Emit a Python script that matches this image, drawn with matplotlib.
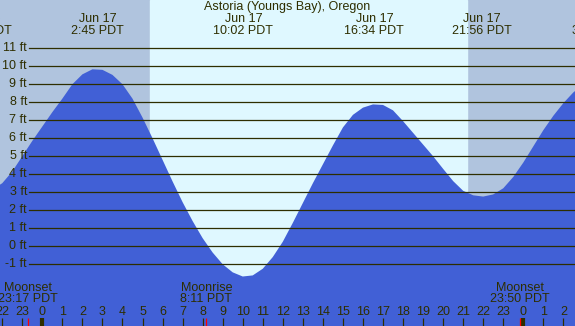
import matplotlib
matplotlib.use("Agg")
import matplotlib.pyplot as plt

# tide height (ft) every half hour, hours from midnight Jun 17
hours = [-2.5, -2.0, -1.5, -1.0, -0.5, 0.0, 0.5, 1.0, 1.5, 2.0, 2.5, 3.0, 3.5, 4.0,
         4.5, 5.0, 5.5, 6.0, 6.5, 7.0, 7.5, 8.0, 8.5, 9.0, 9.5, 10.0, 10.5, 11.0,
         11.5, 12.0, 12.5, 13.0, 13.5, 14.0, 14.5, 15.0, 15.5, 16.0, 16.5, 17.0,
         17.5, 18.0, 18.5, 19.0, 19.5, 20.0, 20.5, 21.0, 21.5, 22.0, 22.5, 23.0,
         23.5, 24.0, 24.5, 25.0, 25.5, 26.0, 26.5, 27.0]
heights = [3.15, 3.5, 4.15, 5.0, 5.85, 6.65, 7.45, 8.2, 9.0, 9.55, 9.83, 9.8, 9.52, 9.0,
           8.2, 7.15, 6.0, 4.8, 3.6, 2.45, 1.4, 0.45, -0.35, -1.0, -1.45, -1.68, -1.62, -1.25,
           -0.6, 0.25, 1.3, 2.4, 3.5, 4.55, 5.6, 6.6, 7.3, 7.7, 7.88, 7.85,
           7.55, 6.95, 6.3, 5.65, 5.0, 4.3, 3.62, 3.08, 2.83, 2.76, 2.88, 3.22,
           3.85, 4.65, 5.55, 6.45, 7.25, 7.95, 8.55, 9.0]

# high / low tide events
event_hours = [-3.0, 2.75, 10.033, 16.567, 21.933, 27.733]
event_dates = ["Jun 16", "Jun 17", "Jun 17", "Jun 17", "Jun 17", "Jun 18"]
event_times = ["20:59 PDT", "2:45 PDT", "10:02 PDT", "16:34 PDT", "21:56 PDT", "3:44 PDT"]

# moon events
moon_hours = [-0.717, 8.183, 23.833]
moon_names = ["Moonset", "Moonrise", "Moonset"]
moon_times = ["23:17 PDT", "8:11 PDT", "23:50 PDT"]

sunrise, sunset = 5.35, 21.19
ft_levels = list(range(-1, 12))
hour_ticks = list(range(-2, 27))
midnights = [0, 24]

title = "Astoria (Youngs Bay), Oregon"

night = "#b0c4de"
day = "#dff8ff"
water = "#4160d6"
ink = "#2e2e00"

plt.rcParams["font.family"] = ["Liberation Sans", "DejaVu Sans"]
fs = 9

fig = plt.figure(figsize=(5.75, 3.26), dpi=100)
ax = fig.add_axes([0, 0, 1, 1])
ax.set_xlim(-2.111, 26.58)
ax.set_ylim(-4.43, 13.68)
ax.axis("off")

ax.axvspan(-10, 40, color=night, zorder=0)
ax.axvspan(sunrise, sunset, color=day, zorder=0.5)
ax.fill_between(hours, heights, -10, color=water, lw=0, zorder=1)

ytr = ax.get_yaxis_transform()
xtr = ax.get_xaxis_transform()
for f in ft_levels:
    ax.axhline(f, xmin=0.05, xmax=1, color=ink, lw=0.9, zorder=2)
    ax.text(0.047, f, f"{f} ft", transform=ytr, ha="right", va="center",
            fontsize=fs, color=ink, zorder=3)

ax.text(0.5, 0.977, title, transform=ax.transAxes, ha="center", va="center",
        fontsize=fs, color=ink)
for h, d, t in zip(event_hours, event_dates, event_times):
    ax.text(h, 0.941, d, transform=xtr, ha="center", va="center", fontsize=fs, color=ink)
    ax.text(h, 0.904, t, transform=xtr, ha="center", va="center", fontsize=fs, color=ink)

for h, n, t in zip(moon_hours, moon_names, moon_times):
    ax.text(h, 0.117, n, transform=xtr, ha="center", va="center", fontsize=fs, color=ink)
    ax.text(h, 0.083, t, transform=xtr, ha="center", va="center", fontsize=fs, color=ink)

for h in hour_ticks:
    ax.text(h, 0.043, str(h % 24), transform=xtr, ha="center", va="center",
            fontsize=fs, color=ink)
ax.vlines(hour_ticks, 0, 0.025, transform=xtr, color=ink, lw=0.9, zorder=3)
ax.vlines(midnights, 0, 0.025, transform=xtr, color=ink, lw=3, zorder=3)
ax.vlines(moon_hours, 0, 0.025, transform=xtr, color="red", lw=0.9, zorder=4)

fig.savefig("out.png", dpi=100)
